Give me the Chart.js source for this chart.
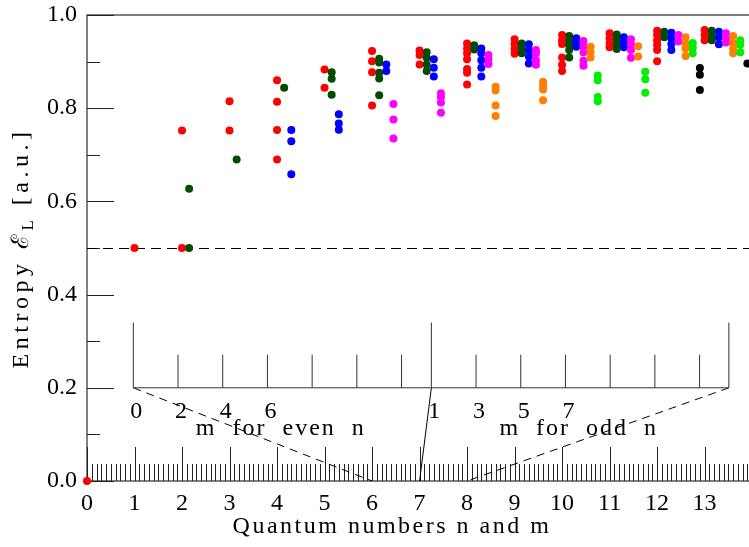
<!DOCTYPE html>
<html>
<head>
<meta charset="utf-8">
<script src="https://cdn.jsdelivr.net/npm/chart.js@4.4.1/dist/chart.umd.min.js"></script>
<style>
  html, body { margin: 0; padding: 0; background: #fff; }
</style>
</head>
<body>
<canvas id="chart" width="749" height="547"></canvas>
<script>
// quantum number n (x category), one list of entropies per n for every m group
const nValues = [0, 1, 2, 3, 4, 5, 6, 7, 8, 9, 10, 11, 12, 13];
const xLabels = [0, 1, 2, 3, 4, 5, 6, 7, 8, 9, 10, 11, 12, 13];
const yLabels = [0, 0.2, 0.4, 0.6, 0.8, 1.0];

const entropyGroup0 = [
  [0.0], [0.500], [0.752, 0.500], [0.815, 0.752], [0.860, 0.814, 0.753, 0.690],
  [0.883, 0.844], [0.923, 0.901, 0.877, 0.806], [0.924, 0.914, 0.894],
  [0.939, 0.928, 0.918, 0.905, 0.884, 0.876, 0.851], [0.948, 0.938, 0.927, 0.917],
  [0.957, 0.946, 0.938, 0.909, 0.893, 0.880], [0.961, 0.950, 0.939, 0.931],
  [0.966, 0.957, 0.946, 0.936, 0.925, 0.901], [0.968, 0.957, 0.946]
];
const entropyGroup1 = [
  [], [], [0.627, 0.500], [0.690], [0.844], [0.877, 0.863, 0.829],
  [0.906, 0.898, 0.876, 0.864, 0.828], [0.920, 0.908, 0.894, 0.880],
  [0.935, 0.926], [0.939, 0.928, 0.918], [0.955, 0.945, 0.935, 0.925, 0.909],
  [0.958, 0.948, 0.937, 0.927], [0.964, 0.952], [0.966, 0.955, 0.946]
];
const entropyGroup2 = [
  [], [], [], [], [0.753, 0.729, 0.658], [0.787, 0.767, 0.754], [0.894, 0.880],
  [0.905, 0.887, 0.868], [0.928, 0.918, 0.903, 0.887, 0.868], [0.937, 0.925, 0.911, 0.896],
  [0.950, 0.941, 0.932], [0.952, 0.942, 0.931], [0.962, 0.950, 0.938, 0.925],
  [0.964, 0.952, 0.937]
];
const entropyGroup3 = [
  [], [], [], [], [], [], [0.809, 0.776, 0.735], [0.832, 0.824, 0.812, 0.790],
  [0.914, 0.905, 0.895], [0.925, 0.918, 0.903, 0.893], [0.944, 0.933, 0.920, 0.902, 0.891],
  [0.948, 0.937, 0.925, 0.908], [0.957, 0.943], [0.961, 0.950, 0.941]
];
const entropyGroup4 = [
  [], [], [], [], [], [], [], [], [0.846, 0.838, 0.806, 0.783], [0.857, 0.848, 0.840, 0.817],
  [0.932, 0.921, 0.909], [0.933, 0.911], [0.952, 0.939, 0.928, 0.912], [0.955, 0.940, 0.928, 0.918]
];
const entropyGroup5 = [
  [], [], [], [], [], [], [], [], [], [],
  [0.870, 0.860, 0.824, 0.815], [0.878, 0.862, 0.833], [0.940, 0.930, 0.918], [0.946, 0.936, 0.920]
];
const entropyGroup6 = [
  [], [], [], [], [], [], [], [], [], [], [], [],
  [0.886, 0.872, 0.839], [0.896, 0.878, 0.846]
];

const groups = [entropyGroup0, entropyGroup1, entropyGroup2, entropyGroup3,
                entropyGroup4, entropyGroup5, entropyGroup6];
const groupColors = ["#ff0000", "#004d00", "#0000ff", "#ff00ff", "#ff8000", "#00ee00", "#000000"];
const GROUP_SHIFT = 0.15; // each m group is drawn a bit right of n

const SERIF = '"Liberation Serif", "DejaVu Serif", serif';

const datasets = groups.map((vals, k) => ({
  label: "group " + k,
  data: nValues.flatMap((n, i) => vals[i].map(v => ({ x: n + k * GROUP_SHIFT, y: v }))),
  backgroundColor: groupColors[k],
  borderWidth: 0,
  pointRadius: 4,
  pointHoverRadius: 4,
  clip: false,
  order: 10 - k
}));

// inset scale (in data units)
const inset = { left: 0.975, mid: 7.248, right: 13.51, step: 0.941,
                base: 0.2, tall: 0.34, short: 0.271, labelY: 0.148, textY: 0.113 };
const evenLabels = ["0", "2", "4", "6"];
const oddLabels = ["1", "3", "5", "7"];

function seg(ctx, x1, y1, x2, y2) {
  ctx.beginPath(); ctx.moveTo(x1, y1); ctx.lineTo(x2, y2); ctx.stroke();
}

const decor = {
  id: "decor",
  beforeDatasetsDraw(chart) {
    const { ctx, chartArea: a, scales: { x, y } } = chart;
    const W = chart.width;
    ctx.save();

    // frame (open on the right)
    ctx.strokeStyle = "#555"; ctx.lineWidth = 1.5;
    ctx.beginPath();
    ctx.moveTo(W, a.top); ctx.lineTo(a.left, a.top);
    ctx.lineTo(a.left, a.bottom); ctx.lineTo(W, a.bottom);
    ctx.stroke();

    // ticks
    ctx.strokeStyle = "#222"; ctx.lineWidth = 1;
    for (let i = 0; i <= 10; i++) {
      const py = Math.round(y.getPixelForValue(i / 10)) + 0.5;
      seg(ctx, a.left, py, a.left + (i % 2 === 0 ? 27 : 13), py);
    }
    for (let i = 0; x.getPixelForValue(i / 10) <= W; i++) {
      const px = Math.round(x.getPixelForValue(i / 10)) + 0.5;
      seg(ctx, px, a.bottom, px, a.bottom - (i % 10 === 0 ? 34 : 17));
    }

    // 0.5 reference line
    ctx.strokeStyle = "#000";
    ctx.setLineDash([10, 6]);
    const yh = Math.round(y.getPixelForValue(0.5)) + 0.5;
    seg(ctx, a.left, yh, W, yh);

    // inset
    const X = v => x.getPixelForValue(v), Y = v => y.getPixelForValue(v);
    ctx.setLineDash([8, 6]);
    seg(ctx, X(inset.left), Y(inset.base), X(6), Y(0));
    seg(ctx, X(inset.right), Y(inset.base), X(8), Y(0));
    ctx.setLineDash([]);
    seg(ctx, X(inset.mid), Y(inset.base), X(7), Y(0));
    ctx.strokeStyle = "#333";
    seg(ctx, X(inset.left), Y(inset.base), X(inset.right), Y(inset.base));
    [inset.left, inset.mid, inset.right].forEach(v => seg(ctx, X(v), Y(inset.base), X(v), Y(inset.tall)));
    for (let k = 1; k <= 6; k++) {
      seg(ctx, X(inset.left + k * inset.step), Y(inset.base), X(inset.left + k * inset.step), Y(inset.short));
      seg(ctx, X(inset.mid + k * inset.step), Y(inset.base), X(inset.mid + k * inset.step), Y(inset.short));
    }

    ctx.fillStyle = "#000";
    ctx.font = "24px " + SERIF;
    ctx.textAlign = "center"; ctx.textBaseline = "middle";
    evenLabels.forEach((t, k) => ctx.fillText(t, X(inset.left + k * inset.step) + 3, Y(inset.labelY)));
    oddLabels.forEach((t, k) => ctx.fillText(t, X(inset.mid + k * inset.step) + 3, Y(inset.labelY)));
    ctx.letterSpacing = "2px";
    ctx.fillText("m  for  even  n", X(4.08), Y(inset.textY));
    ctx.fillText("m  for  odd  n", X(10.35), Y(inset.textY));

    // axis titles
    ctx.letterSpacing = "2.5px";
    ctx.fillText("Quantum numbers n and m", 392, 527);

    ctx.letterSpacing = "4.5px";
    ctx.translate(22, 248);
    ctx.rotate(-Math.PI / 2);
    ctx.textAlign = "left";
    const p1 = "Entropy ", p2 = "\u2130", p3 = " [a.u.]";
    ctx.font = "24px " + SERIF;
    const w1 = ctx.measureText(p1).width, w2 = ctx.measureText(p2).width, w3 = ctx.measureText(p3).width;
    ctx.font = "17px " + SERIF;
    const wl = ctx.measureText("L").width;
    let cx = -(w1 + w2 + wl + w3) / 2;
    ctx.font = "24px " + SERIF;
    ctx.fillText(p1, cx, 0); cx += w1;
    ctx.fillText(p2, cx, 0); cx += w2;
    ctx.font = "17px " + SERIF;
    ctx.fillText("L", cx, 7); cx += wl;
    ctx.font = "24px " + SERIF;
    ctx.fillText(p3, cx, 0);

    ctx.restore();
  }
};

new Chart(document.getElementById("chart").getContext("2d"), {
  type: "scatter",
  data: { datasets },
  options: {
    responsive: false,
    animation: false,
    layout: { padding: { top: 15, right: 0, left: 0, bottom: 0 } },
    plugins: { legend: { display: false }, tooltip: { enabled: false } },
    scales: {
      x: {
        type: "linear", min: 0, max: 13.85,
        grid: { display: false, drawTicks: false },
        border: { display: false },
        afterBuildTicks: s => { s.ticks = xLabels.map(v => ({ value: v })); },
        afterFit: s => { s.height = 66; s.paddingLeft = 0; s.paddingRight = 0; },
        ticks: { color: "#000", padding: 8, font: { family: SERIF, size: 24 }, maxRotation: 0 }
      },
      y: {
        type: "linear", min: 0, max: 1,
        grid: { display: false, drawTicks: false },
        border: { display: false },
        afterBuildTicks: s => { s.ticks = yLabels.map(v => ({ value: v })); },
        afterFit: s => { s.width = 87; s.paddingTop = 0; s.paddingBottom = 0; },
        ticks: { color: "#000", padding: 10, font: { family: SERIF, size: 24 },
                 callback: v => v.toFixed(1) }
      }
    }
  },
  plugins: [decor]
});
</script>
</body>
</html>
